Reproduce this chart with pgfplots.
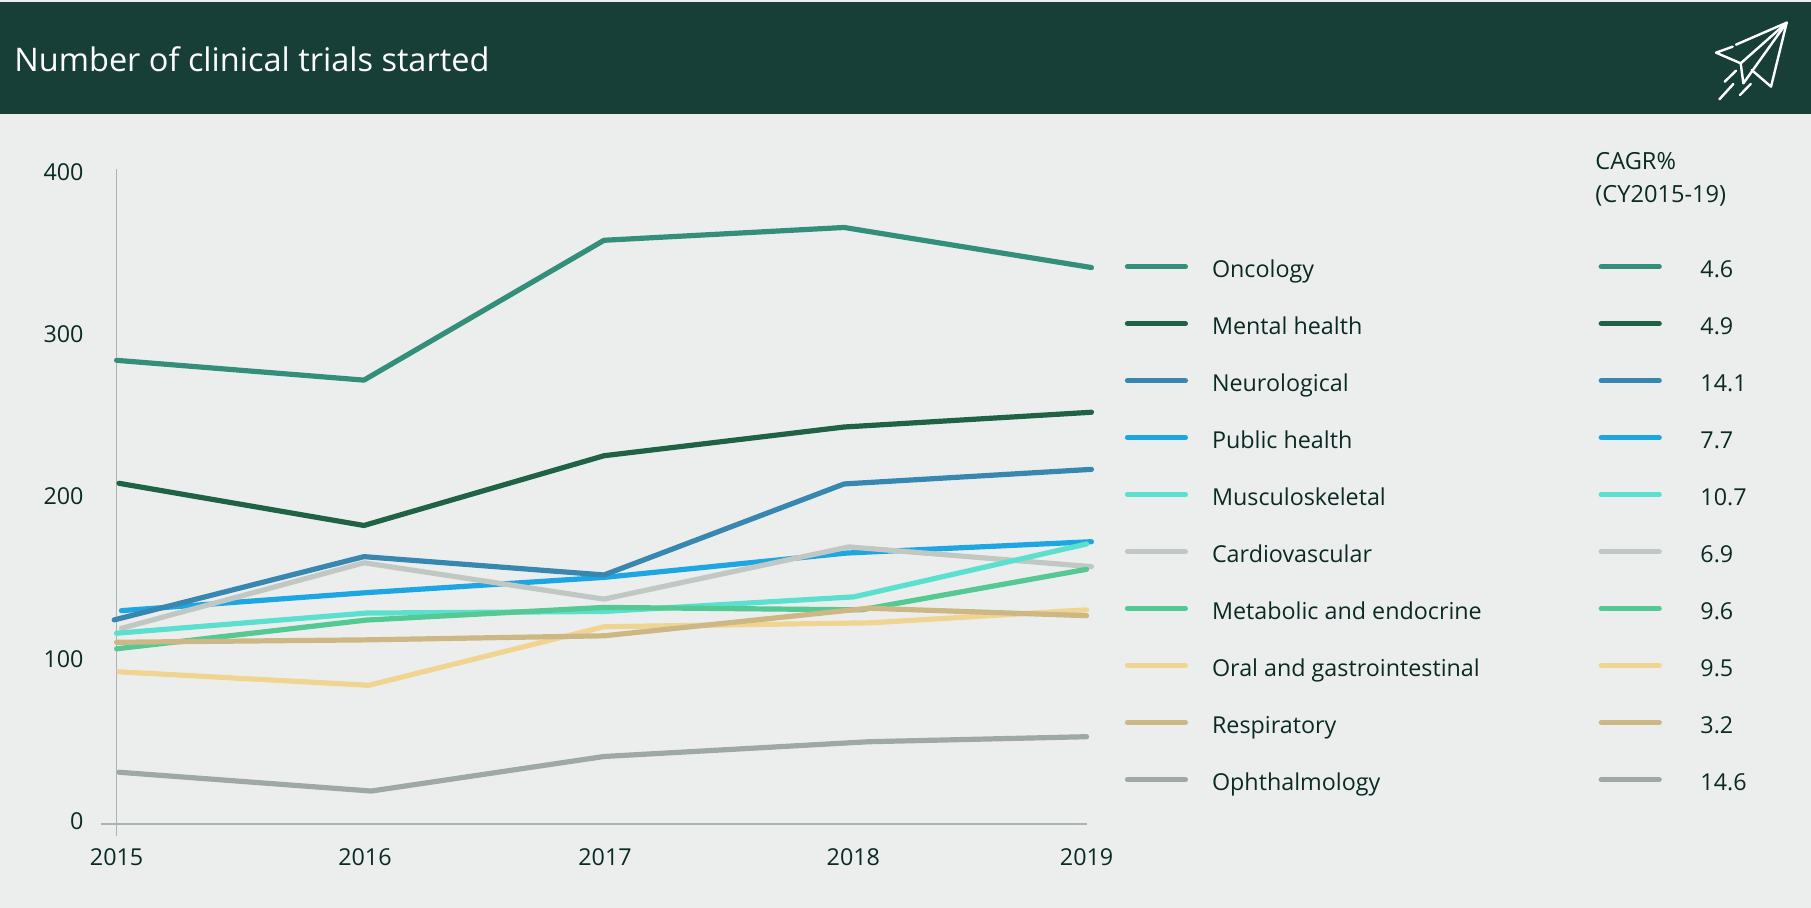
\documentclass[border=0pt]{standalone}
\usepackage{pgfplots}
\usepackage{fontspec}
\pgfplotsset{compat=1.18}
\setmainfont{Open Sans}

\definecolor{headbg}{HTML}{173F37}
\definecolor{pagebg}{HTML}{ECEEED}
\definecolor{inktext}{HTML}{0B2A24}
\definecolor{axisgrey}{HTML}{ABB5B0}
\definecolor{onc}{HTML}{348F7A}
\definecolor{men}{HTML}{1F6244}
\definecolor{neu}{HTML}{3887B0}
\definecolor{pub}{HTML}{1DA6E2}
\definecolor{mus}{HTML}{5BE0CF}
\definecolor{car}{HTML}{C1C8C3}
\definecolor{met}{HTML}{54C994}
\definecolor{ora}{HTML}{F0D592}
\definecolor{res}{HTML}{CDB784}
\definecolor{oph}{HTML}{9FA9A3}

\newcommand{\nm}[1]{\makebox[193.3pt][l]{#1}}

\begin{document}
\begin{tikzpicture}[x=0.5pt,y=-0.5pt,yshift=454pt]
  \path[use as bounding box] (0,0) rectangle (1811,908);
  \fill[pagebg] (0,0) rectangle (1811,908);
  \fill[headbg] (0,2) rectangle (1811,114);
  \node[anchor=west,inner sep=0pt,text=white,font=\fontsize{16.25}{20}\selectfont] at (14,59) {Number of clinical trials started};

  % paper plane
  \begin{scope}[white,line width=1.2pt,line cap=round,line join=round,shift={(1650,0)},x=0.1667pt,y=-0.1667pt]
    \draw (258,134) -- (410,68) -- (363,260) -- (305,210);
    \draw (248,140) -- (198,158) -- (272,190) -- (410,68);
    \draw (272,190) -- (280,250) -- (410,68);
    \draw (258,212) -- (224,245);
    \draw (250,252) -- (208,298);
    \draw (302,252) -- (270,285);
  \end{scope}

  \node[anchor=north west,inner sep=0pt,align=left,text=inktext,font=\fontsize{11.8}{16.5}\selectfont] at (1595,152) {CAGR\%\\(CY2015-19)};

  \begin{axis}[
    at={(58.3pt,-412pt)}, anchor=origin,
    scale only axis, width=485pt, height=327.7pt,
    xmin=2015, xmax=2019, ymin=0, ymax=404,
    clip=false,
    axis x line*=bottom, axis y line*=left,
    axis line style={axisgrey,line width=0.8pt,-},
    x axis line style={shorten <=-8pt},
    y axis line style={shorten <=-6pt},
    xtick={2015,2016.024,2017.014,2018.038,2019},
    xticklabels={2015,2016,2017,2018,2019},
    ytick={0,100,200,300,400},
    major tick length=0pt,
    /pgf/number format/assume math mode=true,
    /pgf/number format/1000 sep={},
    tick label style={text=inktext,font=\fontsize{11.65}{14}\selectfont},
    xticklabel style={yshift=-8.8pt},
    yticklabel style={xshift=-13pt,yshift=1.5pt},
    every axis plot/.append style={line width=2.6pt,line cap=round,line join=round,no markers},
    legend image code/.code={\draw[#1] (0pt,1.8pt) -- (29pt,1.8pt);},
    legend cell align=left,
    legend columns=2,
    legend style={
      at={(1.039,0.889)},anchor=north west,draw=none,fill=none,inner sep=0pt,
      text=inktext,font=\fontsize{11.65}{14}\selectfont,
      nodes={inner sep=0pt,minimum height=28.5pt},
      row sep=0pt,
      /tikz/column 1/.style={column sep=12pt},
      /tikz/column 2/.style={column sep=0pt},
      /tikz/column 3/.style={column sep=19.3pt}
    },
  ]
    \addplot[onc,forget plot] coordinates {(2015,285.8) (2016.02,273.6) (2017.01,359.8) (2018,367.7) (2019.02,343)};
    \addplot[men,forget plot] coordinates {(2015.01,210) (2016.02,184) (2017.01,227) (2018,244.7) (2019.02,253.8)};
    \addplot[pub,forget plot] coordinates {(2015.02,131.5) (2016.03,142.6) (2017.01,152) (2018.01,167) (2019.02,174)};
    \addplot[neu,forget plot] coordinates {(2014.99,125.8) (2016.02,164.8) (2017.01,153.5) (2018,209.6) (2019.02,218.6)};
    \addplot[car,forget plot] coordinates {(2015.02,120.6) (2016.02,161) (2017.01,138.6) (2018.02,170.8) (2019.02,158.6)};
    \addplot[mus,forget plot] coordinates {(2015,117.6) (2016.03,130) (2017.01,131) (2018.04,140) (2019,172.6)};
    \addplot[met,forget plot] coordinates {(2015,108) (2016.03,125.7) (2017.01,133.5) (2018.07,132) (2019,157)};
    \addplot[ora,forget plot] coordinates {(2015.01,93.8) (2016.04,85.5) (2017.01,121.6) (2018.11,124) (2019,132)};
    \addplot[res,forget plot] coordinates {(2015,112) (2016.03,113.5) (2017.01,116) (2018.1,133) (2019,128.4)};
    \addplot[oph,forget plot] coordinates {(2015.01,31.9) (2016.05,20.3) (2017.01,41.6) (2018.1,50.7) (2019,53.8)};

    \addlegendimage{onc}\addlegendimage{onc}
    \addlegendimage{men}\addlegendimage{men}
    \addlegendimage{neu}\addlegendimage{neu}
    \addlegendimage{pub}\addlegendimage{pub}
    \addlegendimage{mus}\addlegendimage{mus}
    \addlegendimage{car}\addlegendimage{car}
    \addlegendimage{met}\addlegendimage{met}
    \addlegendimage{ora}\addlegendimage{ora}
    \addlegendimage{res}\addlegendimage{res}
    \addlegendimage{oph}\addlegendimage{oph}
    \legend{\nm{Oncology},4.6,\nm{Mental health},4.9,\nm{Neurological},14.1,\nm{Public health},7.7,\nm{Musculoskeletal},10.7,\nm{Cardiovascular},6.9,\nm{Metabolic and endocrine},9.6,\nm{Oral and gastrointestinal},9.5,\nm{Respiratory},3.2,\nm{Ophthalmology},14.6}
  \end{axis}
\end{tikzpicture}
\end{document}
